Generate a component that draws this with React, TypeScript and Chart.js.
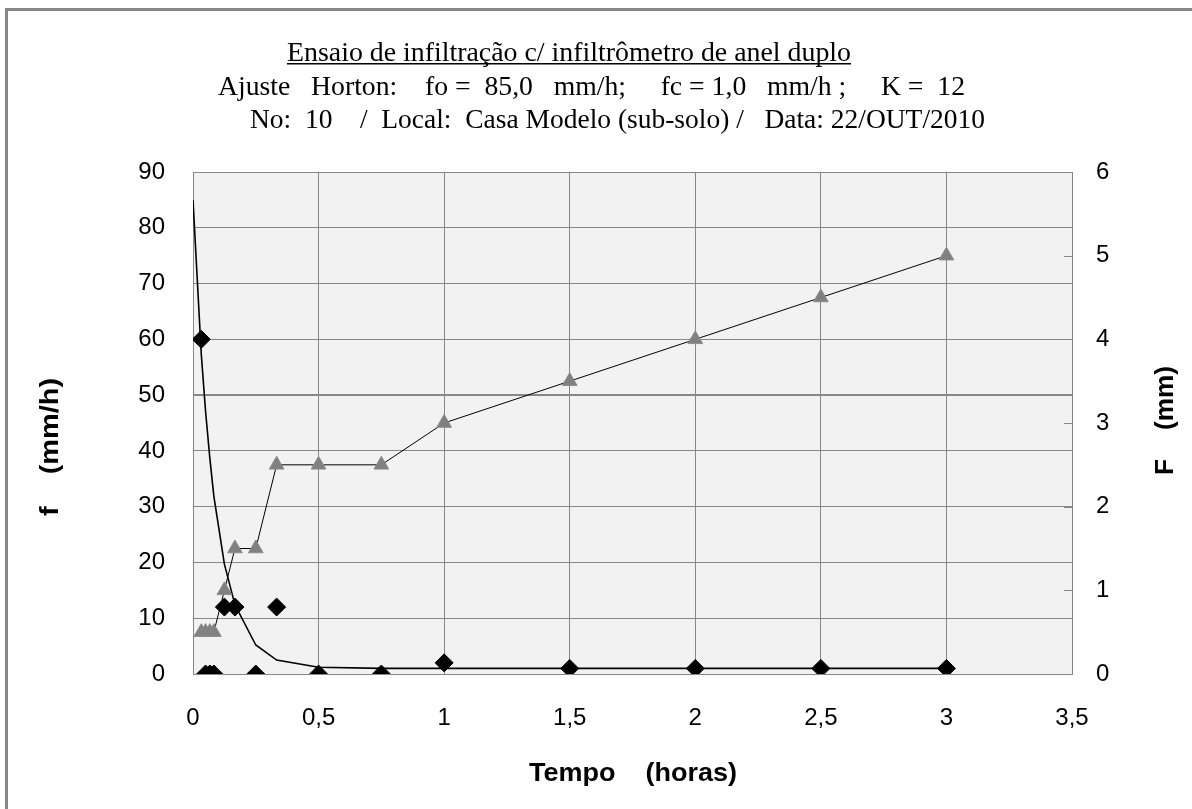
import React, { useEffect, useRef } from "react";
import { Chart, registerables } from "chart.js";

Chart.register(...registerables);

// Time (hours) of each reading
const times = [0.033, 0.05, 0.067, 0.083, 0.125, 0.167, 0.25, 0.333, 0.5, 0.75, 1, 1.5, 2, 2.5, 3];
// Measured infiltration rate f (mm/h) - diamonds, left axis
const fMeasured = [60, 0, 0, 0, 12, 12, 0, 12, 0, 0, 2, 1, 1, 1, 1];
// Cumulative infiltration F (mm) - triangles, right axis
const FCumulative = [0.5, 0.5, 0.5, 0.5, 1, 1.5, 1.5, 2.5, 2.5, 2.5, 3, 3.5, 4, 4.5, 5];
// Horton fitted curve
const hortonTimes = [0, 0.033, 0.05, 0.067, 0.083, 0.125, 0.167, 0.25, 0.333, 0.5, 0.75, 1, 1.5, 2, 2.5, 3];
const hortonF = [85, 57.3, 47.1, 38.7, 31.9, 19.7, 12.4, 5.2, 2.5, 1.2, 1.0, 1.0, 1.0, 1.0, 1.0, 1.0];

// Axis ticks
const xTicks = { min: 0, max: 3.5, step: 0.5 };
const yTicks = { min: 0, max: 90, step: 10 };
const y2Ticks = { min: 0, max: 6, step: 1 };

const titleLines = [
  "Ensaio de infiltração c/ infiltrômetro de anel duplo",
  "Ajuste   Horton:    fo =  85,0   mm/h;     fc = 1,0   mm/h ;     K =  12",
  "No:  10    /  Local:  Casa Modelo (sub-solo) /   Data: 22/OUT/2010",
];
const xTitle = "Tempo    (horas)";
const yTitle = "f    (mm/h)";
const y2Title = "F    (mm)";

const GRID = "#878787";

function drawFitted(
  ctx: CanvasRenderingContext2D,
  text: string,
  font: string,
  x0: number,
  x1: number,
  y: number,
  baseline: CanvasTextBaseline
) {
  ctx.save();
  ctx.font = font;
  ctx.fillStyle = "#000";
  ctx.textBaseline = baseline;
  ctx.textAlign = "left";
  const w = ctx.measureText(text).width;
  const s = (x1 - x0) / w;
  ctx.translate(x0, y);
  ctx.scale(s, 1);
  ctx.fillText(text, 0, 0);
  ctx.restore();
}

const decorPlugin = {
  id: "decor",
  beforeDraw(chart: any) {
    const { ctx, chartArea } = chart;
    ctx.save();
    ctx.fillStyle = "#f2f2f2";
    ctx.fillRect(chartArea.left, chartArea.top, chartArea.right - chartArea.left, chartArea.bottom - chartArea.top);
    ctx.restore();
  },
  afterDraw(chart: any) {
    const { ctx, chartArea } = chart;
    // right axis inner tick marks
    const y2 = chart.scales.y2;
    ctx.save();
    ctx.strokeStyle = GRID;
    ctx.lineWidth = 1;
    for (let v = y2Ticks.min; v <= y2Ticks.max; v += y2Ticks.step) {
      const py = Math.round(y2.getPixelForValue(v)) + 0.5;
      ctx.beginPath();
      ctx.moveTo(chartArea.right - 8, py);
      ctx.lineTo(chartArea.right, py);
      ctx.stroke();
    }
    ctx.restore();

    // Title (serif, three lines, first underlined)
    const serif = '28px "Liberation Serif"';
    drawFitted(ctx, titleLines[0], serif, 287, 851, 61, "alphabetic");
    ctx.save();
    ctx.fillStyle = "#000";
    ctx.fillRect(287, 63, 851 - 287, 1.5);
    ctx.restore();
    drawFitted(ctx, titleLines[1], serif, 218, 965, 95, "alphabetic");
    drawFitted(ctx, titleLines[2], serif, 250, 985, 128, "alphabetic");

    // Axis titles
    const bold = 'bold 25px "Liberation Sans"';
    drawFitted(ctx, xTitle, bold, 529, 737, 774, "middle");

    // left, rotated -90 (reads bottom to top)
    ctx.save();
    ctx.translate(51, 516);
    ctx.rotate(-Math.PI / 2);
    drawFitted(ctx, yTitle, bold, 0, 516 - 378, 0, "middle");
    ctx.restore();

    // right, rotated -90
    ctx.save();
    ctx.translate(1166, 475);
    ctx.rotate(-Math.PI / 2);
    drawFitted(ctx, y2Title, bold, 0, 475 - 366, 0, "middle");
    ctx.restore();
  },
};

export default function App() {
  const ref = useRef<HTMLCanvasElement>(null);

  useEffect(() => {
    if (!ref.current) return;
    const tickFont = { family: '"Liberation Sans", Arial, sans-serif', size: 24 };
    const chart = new Chart(ref.current, {
      type: "scatter",
      data: {
        datasets: [
          {
            label: "f medido",
            data: times.map((t, i) => ({ x: t, y: fMeasured[i] })),
            yAxisID: "y",
            showLine: false,
            pointStyle: "rectRot",
            pointRadius: 9,
            backgroundColor: "#000",
            borderColor: "#000",
            borderWidth: 1,
          },
          {
            label: "F acumulado",
            data: times.map((t, i) => ({ x: t, y: FCumulative[i] })),
            yAxisID: "y2",
            showLine: true,
            borderColor: "#000",
            borderWidth: 1,
            pointStyle: "triangle",
            pointRadius: 8.5,
            pointBackgroundColor: "#808080",
            pointBorderColor: "#8c8c8c",
            pointBorderWidth: 1,
          },
          {
            label: "Horton",
            data: hortonTimes.map((t, i) => ({ x: t, y: hortonF[i] })),
            yAxisID: "y",
            showLine: true,
            borderColor: "#000",
            borderWidth: 1.6,
            pointRadius: 0,
            tension: 0,
          },
        ],
      },
      options: {
        responsive: false,
        animation: false,
        layout: { padding: { top: 172, left: 0, right: 0, bottom: 0 } },
        plugins: {
          legend: { display: false },
          title: { display: false },
          tooltip: { enabled: false },
        },
        scales: {
          x: {
            type: "linear",
            position: "bottom",
            min: xTicks.min,
            max: xTicks.max,
            ticks: {
              stepSize: xTicks.step,
              font: tickFont,
              color: "#000",
              padding: 30,
              maxRotation: 0,
              callback: (v: any) => String(v).replace(".", ","),
            },
            grid: { color: GRID, lineWidth: 1, drawTicks: false },
            border: { color: GRID, width: 1 },
            afterFit: (s: any) => {
              s.height = 135;
            },
          },
          y: {
            position: "left",
            min: yTicks.min,
            max: yTicks.max,
            ticks: { stepSize: yTicks.step, font: tickFont, color: "#000", padding: 28 },
            grid: {
              color: GRID,
              lineWidth: (c: any) => (c.tick && c.tick.value === 50 ? 2 : 1),
              drawTicks: false,
            },
            border: { color: GRID, width: 1 },
            afterFit: (s: any) => {
              s.width = 193;
            },
          },
          y2: {
            position: "right",
            min: y2Ticks.min,
            max: y2Ticks.max,
            ticks: { stepSize: y2Ticks.step, font: tickFont, color: "#000", padding: 24 },
            grid: { drawOnChartArea: false, drawTicks: false },
            border: { color: GRID, width: 1 },
            afterFit: (s: any) => {
              s.width = 120;
            },
          },
        },
      },
      plugins: [decorPlugin],
    });
    return () => chart.destroy();
  }, []);

  return (
    <div style={{ position: "fixed", left: 0, top: 0, width: 1192, height: 809, background: "#fff", overflow: "hidden" }}>
      <div
        style={{
          position: "absolute",
          left: 5,
          top: 8,
          width: 1300,
          height: 1000,
          border: `3px solid ${GRID}`,
          boxSizing: "border-box",
        }}
      />
      <canvas ref={ref} width={1192} height={809} style={{ position: "absolute", left: 0, top: 0, width: 1192, height: 809 }} />
    </div>
  );
}
